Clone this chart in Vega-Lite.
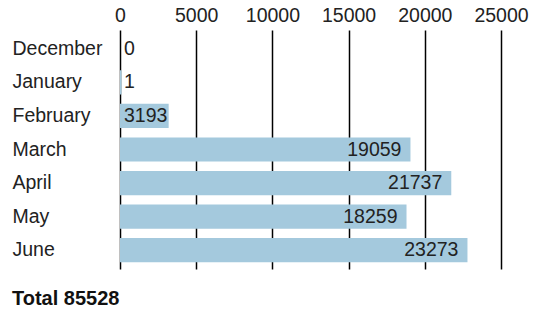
{
  "$schema": "https://vega.github.io/schema/vega-lite/v6.json",
  "autosize": {"type": "none"},
  "width": 381,
  "height": 239,
  "padding": {"left": 120, "top": 30, "right": 36, "bottom": 43},
  "background": "white",
  "config": {"view": {"stroke": null}, "font": "Liberation Sans"},
  "title": {
    "text": "Total 85528",
    "orient": "bottom",
    "anchor": "start",
    "frame": "group",
    "dx": -108,
    "offset": 20,
    "fontSize": 20,
    "fontWeight": "bold",
    "color": "#111",
    "font": "Liberation Sans"
  },
  "data": {
    "values": [
      {"month": "December", "value": 0, "bar": 0},
      {"month": "January", "value": 1, "bar": 100},
      {"month": "February", "value": 3193, "bar": 3193},
      {"month": "March", "value": 19059, "bar": 19059},
      {"month": "April", "value": 21737, "bar": 21737},
      {"month": "May", "value": 18259, "bar": 18800},
      {"month": "June", "value": 23273, "bar": 22800}
    ]
  },
  "encoding": {
    "y": {
      "field": "month",
      "type": "nominal",
      "sort": null,
      "scale": {"paddingInner": 0.28, "paddingOuter": 0.2},
      "axis": {
        "title": null,
        "domain": false,
        "ticks": false,
        "labelAlign": "left",
        "labelPadding": 108,
        "labelFontSize": 19.5,
        "labelColor": "#222",
        "labelFont": "Liberation Sans"
      }
    }
  },
  "layer": [
    {
      "mark": {"type": "bar", "color": "#a4c9dd"},
      "encoding": {
        "x": {
          "field": "bar",
          "type": "quantitative",
          "scale": {"domain": [0, 25000], "nice": false, "zero": true},
          "axis": {
            "orient": "top",
            "title": null,
            "domain": false,
            "ticks": false,
            "values": [0, 5000, 10000, 15000, 20000, 25000],
            "format": "d",
            "labelFontSize": 19.5,
            "labelColor": "#222",
            "labelPadding": 5,
            "labelFlush": false,
            "labelOverlap": false,
            "labelFont": "Liberation Sans",
            "grid": true,
            "gridColor": "#000",
            "gridWidth": 1.5,
            "gridOpacity": 1,
            "zindex": 0
          }
        }
      }
    },
    {
      "transform": [{"filter": "datum.value < 5000"}],
      "mark": {"type": "text", "align": "left", "dx": 4, "fontSize": 19.5, "color": "#222", "font": "Liberation Sans", "x": 0},
      "encoding": {
        "text": {"field": "value", "type": "quantitative", "format": "d"}
      }
    },
    {
      "transform": [{"filter": "datum.value >= 5000"}],
      "mark": {"type": "text", "align": "right", "dx": -9, "fontSize": 19.5, "color": "#222", "font": "Liberation Sans"},
      "encoding": {
        "x": {"field": "bar", "type": "quantitative"},
        "text": {"field": "value", "type": "quantitative", "format": "d"}
      }
    }
  ]
}
